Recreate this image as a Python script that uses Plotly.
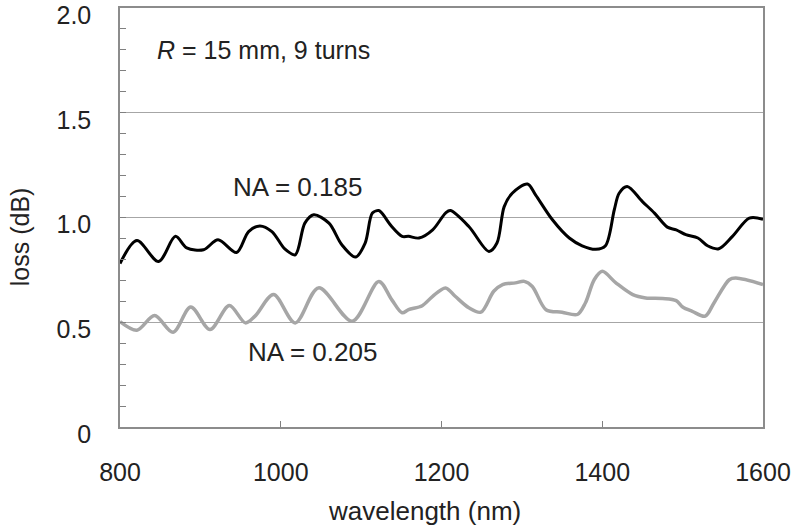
import plotly.graph_objects as go

# NA = 0.185 (black)
wl_185 = [800, 821, 848, 869, 883, 904, 922, 945, 960, 974, 989, 1005, 1018, 1030, 1041, 1060,
          1076, 1093, 1105, 1114, 1122, 1126, 1138, 1151, 1159, 1172, 1189, 1205, 1211, 1234,
          1259, 1269, 1278, 1288, 1307, 1317, 1338, 1359, 1375, 1392, 1404, 1415, 1421, 1431,
          1450, 1465, 1481, 1492, 1504, 1519, 1531, 1545, 1562, 1583, 1600]
loss_185 = [0.78, 0.89, 0.79, 0.91, 0.855, 0.846, 0.894, 0.833, 0.933, 0.96, 0.933, 0.85, 0.822,
            0.973, 1.013, 0.973, 0.87, 0.811, 0.878, 1.021, 1.033, 1.02, 0.957, 0.91, 0.91, 0.902,
            0.941, 1.021, 1.033, 0.957, 0.838, 0.878, 1.052, 1.116, 1.16, 1.108, 0.989, 0.902,
            0.865, 0.848, 0.865, 1.037, 1.116, 1.148, 1.076, 1.021, 0.954, 0.941, 0.918, 0.902,
            0.865, 0.851, 0.91, 0.997, 0.992]

# NA = 0.205 (grey)
wl_205 = [800, 821, 843, 866, 888, 912, 936, 956, 968, 991, 1018, 1047, 1089, 1122, 1138, 1151,
          1159, 1176, 1189, 1205, 1217, 1234, 1249, 1265, 1276, 1292, 1303, 1313, 1330, 1350,
          1369, 1379, 1390, 1400, 1417, 1438, 1454, 1475, 1492, 1500, 1512, 1528, 1539, 1558,
          1566, 1600]
loss_205 = [0.503, 0.462, 0.532, 0.452, 0.573, 0.465, 0.58, 0.497, 0.529, 0.632, 0.497, 0.664,
            0.505, 0.695, 0.608, 0.545, 0.56, 0.579, 0.624, 0.664, 0.624, 0.569, 0.548, 0.648,
            0.68, 0.688, 0.695, 0.671, 0.56, 0.548, 0.537, 0.592, 0.703, 0.743, 0.688, 0.632,
            0.616, 0.613, 0.603, 0.573, 0.552, 0.529, 0.592, 0.703, 0.711, 0.68]

y_ticks = [0, 0.5, 1.0, 1.5, 2.0]
y_tick_text = ["0", "0.5", "1.0", "1.5", "2.0"]
x_ticks = [800, 1000, 1200, 1400, 1600]

FONT = "Arial, Liberation Sans, sans-serif"
TXT = "#222222"

fig = go.Figure()
fig.add_trace(go.Scatter(x=wl_205, y=loss_205, mode="lines",
                         line=dict(color="#a6a6a6", width=3.5, shape="spline", smoothing=0.9),
                         showlegend=False, hoverinfo="skip"))
fig.add_trace(go.Scatter(x=wl_185, y=loss_185, mode="lines",
                         line=dict(color="#000000", width=3, shape="spline", smoothing=0.9),
                         showlegend=False, hoverinfo="skip"))

fig.update_layout(
    width=792, height=529,
    margin=dict(l=120, r=29, t=8, b=102),
    paper_bgcolor="white", plot_bgcolor="white",
    font=dict(family=FONT, size=25, color=TXT),
    xaxis=dict(
        range=[800, 1600], tickvals=x_ticks, ticks="inside", ticklen=6, tickcolor="#808080",
        showline=True, linecolor="#8c8c8c", linewidth=1.5, mirror=True,
        showgrid=False, zeroline=False, ticklabelstandoff=22, automargin=False,
        ticklabeloverflow="allow", tickfont=dict(size=25),
    ),
    yaxis=dict(
        range=[0, 2.0], tickvals=y_ticks, ticktext=y_tick_text, ticks="inside", ticklen=6,
        tickcolor="#808080", showline=True, linecolor="#8c8c8c", linewidth=1.5, mirror=True,
        showgrid=True, gridcolor="#a6a6a6", gridwidth=1, zeroline=False,
        ticklabelstandoff=22, ticklabelshift=7, tickfont=dict(size=25), automargin=False,
        ticklabeloverflow="allow",
        minor=dict(dtick=0.1, ticks="inside", ticklen=6, tickcolor="#808080", showgrid=False),
    ),
    annotations=[
        dict(x=0.054, y=1.80, xref="paper", yref="y", text="<i>R</i> = 15 mm, 9 turns",
             showarrow=False, xanchor="left", yanchor="middle", font=dict(size=25, color=TXT)),
        dict(x=1021, y=1.146, xref="x", yref="y", text="NA = 0.185",
             showarrow=False, xanchor="center", yanchor="middle", font=dict(size=26, color=TXT)),
        dict(x=1039, y=0.356, xref="x", yref="y", text="NA = 0.205",
             showarrow=False, xanchor="center", yanchor="middle", font=dict(size=26, color=TXT)),
        dict(x=0.473, y=-0.2, xref="paper", yref="paper", text="wavelength (nm)",
             showarrow=False, xanchor="center", yanchor="middle", font=dict(size=26, color=TXT)),
        dict(x=-0.1555, y=0.453, xref="paper", yref="paper", text="loss (dB)", textangle=-90,
             showarrow=False, xanchor="center", yanchor="middle", font=dict(size=25, color=TXT)),
    ],
)

fig.write_html("out.html")
